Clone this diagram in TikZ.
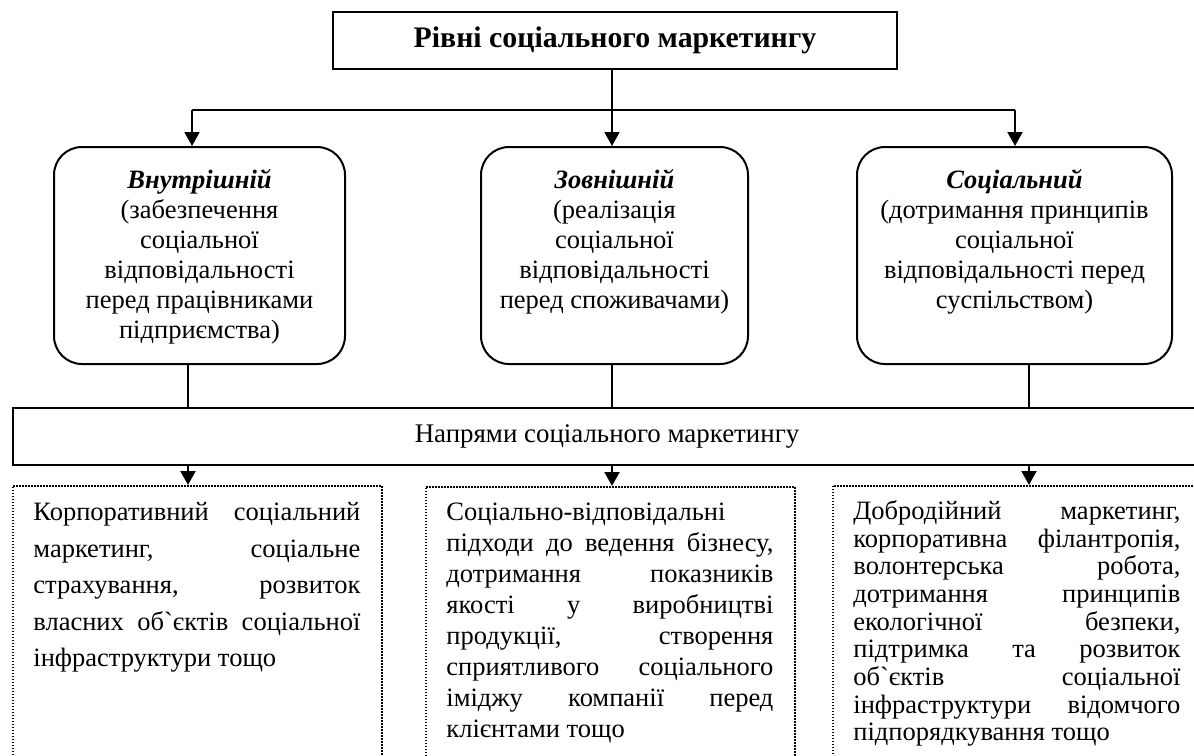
\documentclass[tikz,border=0pt]{standalone}
\usepackage{fontspec}
\setmainfont{Liberation Serif}
\usetikzlibrary{arrows.meta}
\newcommand\bq{\XeTeXglyph\XeTeXcharglyph"60\relax}
\newcommand\jl[1]{\makebox[163.5pt][s]{#1}\\}
\begin{document}
\begin{tikzpicture}[x=0.5pt,y=-0.5pt,
  conn/.style={line width=1pt},
  arr/.style={line width=1pt,-{Triangle[length=7pt,width=7.5pt]}},
  lvl/.style={draw,line width=1pt,rounded corners=14pt,inner sep=0pt,minimum height=108.5pt},
  lvltext/.style={anchor=north,inner sep=0pt,align=center,font=\fontsize{13.25}{15}\selectfont},
  dotbox/.style={draw,line width=0.75pt,dash pattern=on 0.75pt off 0.75pt,inner sep=0pt,anchor=north west,minimum height=145pt},
  dottext/.style={anchor=north west,inner sep=0pt,align=left},
  head/.style={font=\bfseries\itshape}
]
\useasboundingbox (0,0) rectangle (1194,755);

% title
\node[draw,line width=1pt,minimum width=282pt,minimum height=28.5pt,inner sep=0pt,
      font=\bfseries\fontsize{14.9}{17}\selectfont] (top) at (615,40.5) {Рівні соціального маркетингу};

% levels
\node[lvl,minimum width=145.5pt] (l1) at (199.5,255.5) {};
\node[lvl,minimum width=133.5pt] (l2) at (614.5,255.5) {};
\node[lvl,minimum width=157.5pt] (l3) at (1014.5,255.5) {};

\node[lvltext] (t1) at ([yshift=-11.25pt]l1.north) {{\bfseries\itshape Внутрішній}\\(забезпечення\\соціальної\\відповідальності\\перед працівниками\\підприємства)};
\node[lvltext] (t2) at ([yshift=-11.25pt]l2.north) {{\bfseries\itshape Зовнішній}\\(реалізація\\соціальної\\відповідальності\\перед споживачами)};
\node[lvltext] (t3) at ([yshift=-11.25pt]l3.north) {{\bfseries\itshape Соціальний}\\(дотримання принципів\\соціальної\\відповідальності перед\\суспільством)};

% directions bar
\node[draw,line width=1pt,anchor=north west,minimum width=594pt,minimum height=28.5pt,inner sep=0pt,
      font=\fontsize{13.45}{15}\selectfont] (dir) at (12,407) {Напрями соціального маркетингу};

% dotted boxes
\node[dotbox,minimum width=184.5pt] (d1) at (12,485) {};
\node[dotbox,minimum width=184.5pt] (d2) at (425,486) {};
\node[dotbox,minimum width=184pt] (d3) at (832,485) {};

\node[dottext,font=\fontsize{13.25}{18.25}\selectfont] (x1) at (33,502) {%
\jl{Корпоративний соціальний}\jl{маркетинг, соціальне}\jl{страхування, розвиток}\jl{власних об\bq єктів соціальної}інфраструктури тощо};
\node[dottext,font=\fontsize{13.25}{15.5}\selectfont] (x2) at (446,503) {%
Соціально-відповідальні\\\jl{підходи до ведення бізнесу,}\jl{дотримання показників}\jl{якості у виробництві}\jl{продукції, створення}\jl{сприятливого соціального}\jl{іміджу компанії перед}клієнтами тощо};
\node[dottext,font=\fontsize{13.25}{13.85}\selectfont] (x3) at (853,500) {%
\jl{Добродійний маркетинг,}\jl{корпоративна філантропія,}\jl{волонтерська робота,}\jl{дотримання принципів}\jl{екологічної безпеки,}\jl{підтримка та розвиток}\jl{об\bq єктів соціальної}\jl{інфраструктури відомчого}підпорядкування тощо};

% connectors
\coordinate (hub) at (612,110);
\coordinate (hl) at (192,110);
\coordinate (hr) at (1015,110);
\coordinate (c1) at (188,0);
\coordinate (c2) at (612,0);
\coordinate (c3) at (1029,0);

\draw[conn] (top.south -| hub) -- (hub);
\draw[conn] (hl) -- (hr);
\draw[arr] (hl) -- (hl |- l1.north);
\draw[arr] (hub) -- (hub |- l2.north);
\draw[arr] (hr) -- (hr |- l3.north);

\draw[conn] (c1 |- l1.south) -- (c1 |- dir.north);
\draw[conn] (c2 |- l2.south) -- (c2 |- dir.north);
\draw[conn] (c3 |- l3.south) -- (c3 |- dir.north);

\draw[arr] (c1 |- dir.south) -- (c1 |- d1.north);
\draw[arr] (c2 |- dir.south) -- (c2 |- d2.north);
\draw[arr] (c3 |- dir.south) -- (c3 |- d3.north);
\end{tikzpicture}
\end{document}
